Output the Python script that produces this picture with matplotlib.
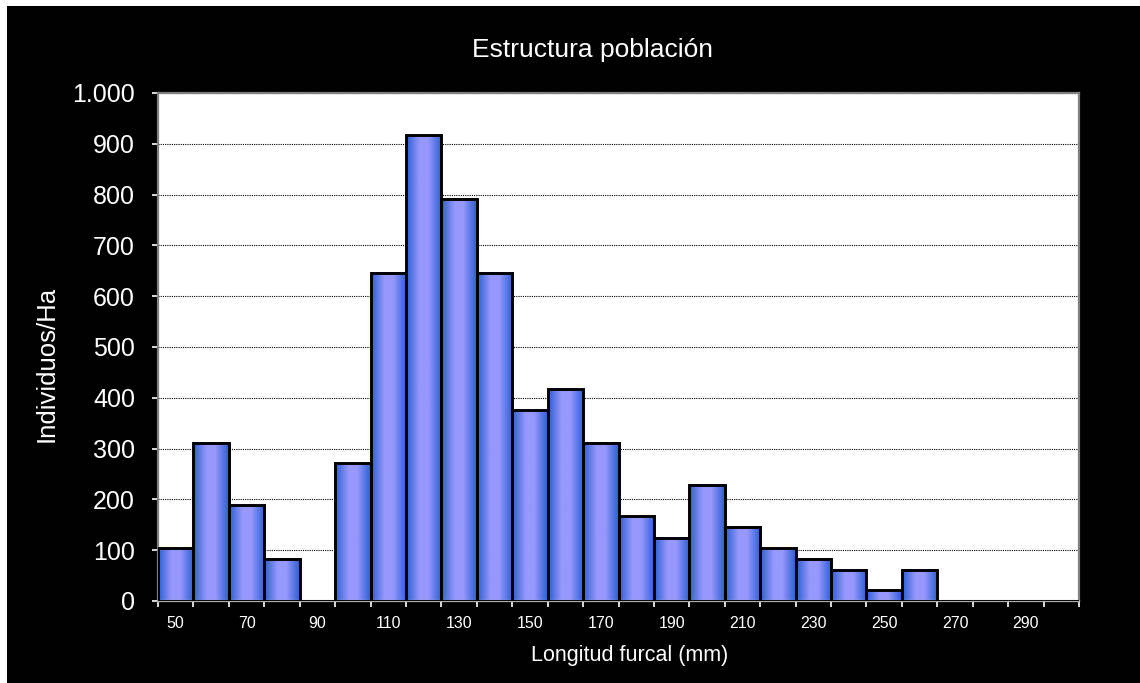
import numpy as np
import matplotlib.pyplot as plt
from matplotlib.colors import LinearSegmentedColormap
from matplotlib.patches import Rectangle

plt.rcParams['font.family'] = ['Liberation Sans', 'DejaVu Sans']

# longitud furcal (mm) por clase y densidad (individuos/Ha)
clases = [50, 60, 70, 80, 90, 100, 110, 120, 130, 140, 150, 160, 170,
          180, 190, 200, 210, 220, 230, 240, 250, 260, 270, 280, 290, 300]
densidad = [104, 312, 188, 83, 0, 271, 646, 917, 792, 646, 375, 417, 312,
            167, 125, 229, 146, 104, 83, 62, 21, 62, 0, 0, 0, 0]
y_ticks = [0, 100, 200, 300, 400, 500, 600, 700, 800, 900, 1000]
y_labels = ['0', '100', '200', '300', '400', '500', '600', '700', '800', '900', '1.000']

W, H = 1140, 683
fig = plt.figure(figsize=(W / 100, H / 100), dpi=100, facecolor='white')
# fondo negro del grafico (deja una franja blanca arriba y a la izquierda)
fig.patches.append(Rectangle((7 / W, 0), 1 - 7 / W, 1 - 6 / H, transform=fig.transFigure,
                             facecolor='black', edgecolor='none', zorder=-10))

ax = fig.add_axes([158 / W, 1 - 601 / H, (1079 - 158) / W, (601 - 93) / H])
ax.set_facecolor('white')

x = np.arange(len(clases))
cmap = LinearSegmentedColormap.from_list('barra', [(0, '#2c5fd2'), (0.38, '#9798fd'),
                                                   (0.62, '#9798fd'), (1, '#2c5fd2')])
grad = np.linspace(0, 1, 64).reshape(1, -1)
for xi, h in zip(x, densidad):
    if h <= 0:
        continue
    ax.imshow(grad, cmap=cmap, extent=[xi - 0.5, xi + 0.5, 0, h], aspect='auto',
              interpolation='bilinear', zorder=2)
ax.bar(x, densidad, width=1.0, facecolor='none', edgecolor='black', linewidth=2.1, zorder=3)

ax.set_xlim(-0.5, len(clases) - 0.5)
ax.set_ylim(0, 1000)

ax.set_yticks(y_ticks)
ax.set_yticklabels(y_labels)
ax.yaxis.grid(True, color='black', linestyle=(0, (1, 1)), linewidth=0.8, zorder=1)
ax.set_axisbelow(True)

# ticks en los limites de clase, etiquetas cada dos clases
ax.set_xticks(np.arange(-0.5, len(clases), 1.0))
ax.set_xticklabels([])
ax.set_xticks(x[::2], minor=True)
ax.set_xticklabels([str(c) for c in clases[::2]], minor=True)

ax.tick_params(axis='y', colors='white', labelsize=18, length=4.5, width=1.2, pad=12)
ax.tick_params(axis='x', which='major', colors='white', length=4, width=1.2)
ax.tick_params(axis='x', which='minor', colors='white', labelsize=11.5, length=0, pad=11)

for s in ['left', 'top', 'right']:
    ax.spines[s].set_color('#808080')
    ax.spines[s].set_linewidth(1.6)
ax.spines['bottom'].set_color('#b0b0b0')
ax.spines['bottom'].set_linewidth(1.6)

fig.text(593 / W, 1 - 50 / H, 'Estructura población', color='white', fontsize=19,
         ha='center', va='center')
fig.text(47 / W, 1 - 364 / H, 'Individuos/Ha', color='white', fontsize=18.5,
         ha='center', va='center', rotation=90)
fig.text(630 / W, 1 - 655 / H, 'Longitud furcal (mm)', color='white', fontsize=15.5,
         ha='center', va='center')

fig.savefig('out.png', dpi=100, facecolor=fig.get_facecolor())
